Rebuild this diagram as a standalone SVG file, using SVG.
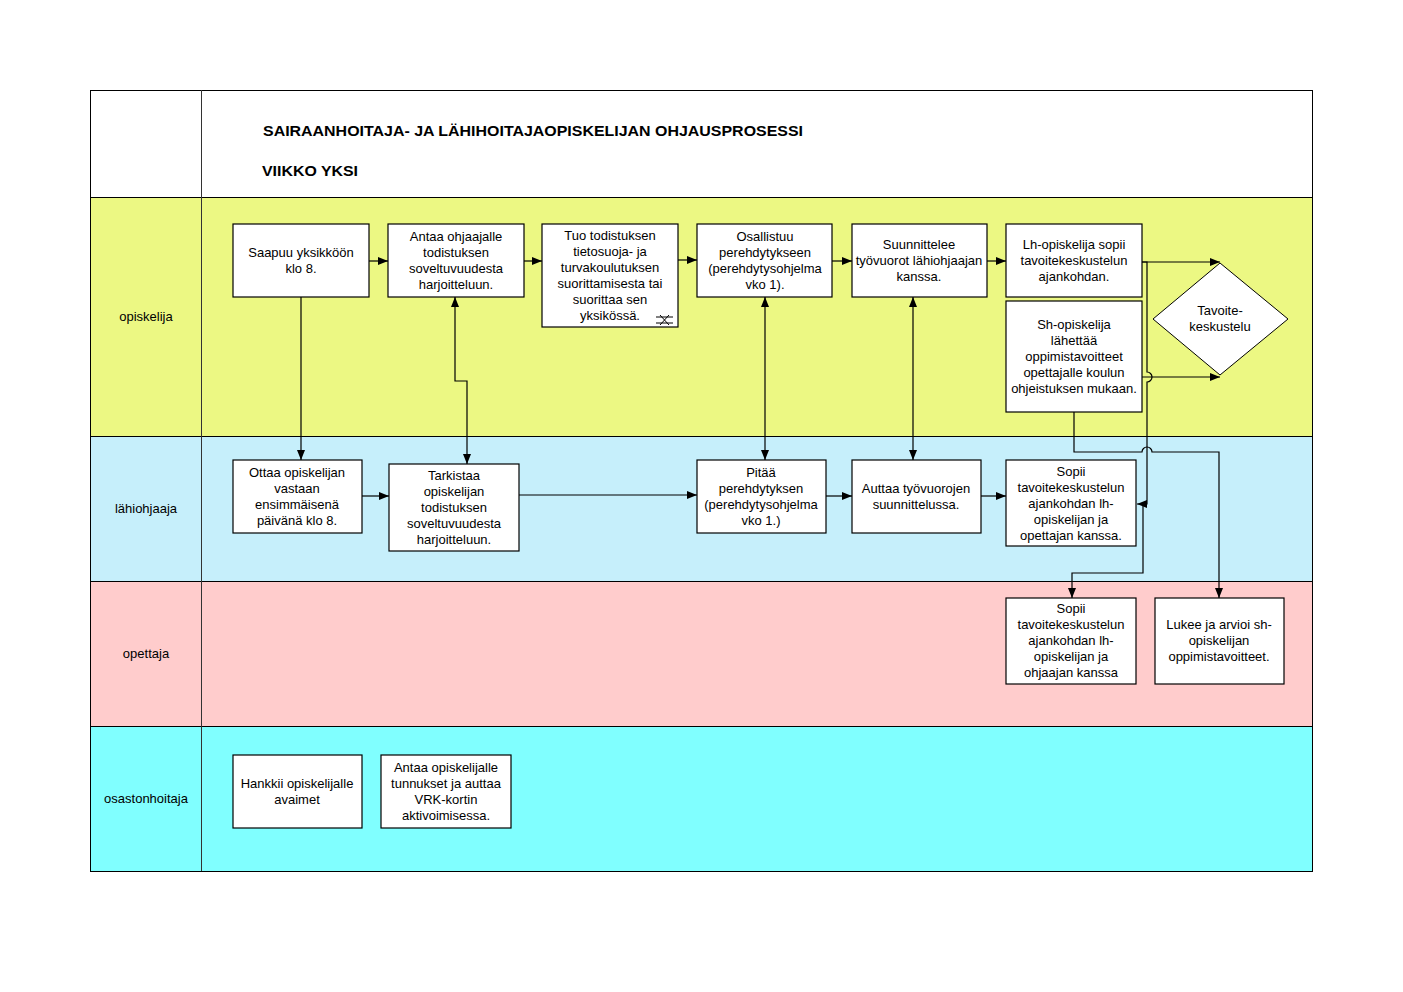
<svg xmlns="http://www.w3.org/2000/svg" width="1403" height="992" viewBox="0 0 1403 992">
<defs>
<marker id="ah" viewBox="0 0 10 8" refX="10" refY="4" markerWidth="10" markerHeight="8" markerUnits="userSpaceOnUse" orient="auto-start-reverse">
<path d="M0,0 L10,4 L0,8 Z" fill="#000"/>
</marker>
</defs>
<style>
.box{fill:#fff;stroke:#000;stroke-width:1.2}
.t{font-family:"Liberation Sans",Arial,sans-serif;font-size:13px;fill:#000;text-anchor:middle}
.ttl{font-family:"Liberation Sans",Arial,sans-serif;font-size:15px;font-weight:bold;fill:#000}
.c{fill:none;stroke:#000;stroke-width:1.2}
.ca{fill:none;stroke:#000;stroke-width:1.2;marker-end:url(#ah)}
.cb{fill:none;stroke:#000;stroke-width:1.2;marker-end:url(#ah);marker-start:url(#ah)}
.lane{stroke:none}
</style>
<rect width="1403" height="992" fill="#fff"/>
<g id="lanes">
<rect x="90" y="90" width="1222" height="107" fill="#fff"/>
<rect class="lane" x="90" y="197" width="1222" height="239" fill="#ECF883"/>
<rect class="lane" x="90" y="436" width="1222" height="145" fill="#C6EFFB"/>
<rect class="lane" x="90" y="581" width="1222" height="145" fill="#FFCCCC"/>
<rect class="lane" x="90" y="726" width="1222" height="145" fill="#80FFFF"/>
<rect x="90.5" y="90.5" width="1222" height="781" fill="none" stroke="#000" stroke-width="1"/>
<path d="M90,197.5H1312M90,436.5H1312M90,581.5H1312M90,726.5H1312" stroke="#000" stroke-width="1"/>
<path d="M201.5,90V871" stroke="#333" stroke-width="1"/>
<text class="t" x="146" y="321">opiskelija</text>
<text class="t" x="146" y="513">lähiohjaaja</text>
<text class="t" x="146" y="658">opettaja</text>
<text class="t" x="146" y="803">osastonhoitaja</text>
</g>
<g id="title">
<text class="ttl" x="263" y="136" textLength="540" lengthAdjust="spacingAndGlyphs">SAIRAANHOITAJA- JA LÄHIHOITAJAOPISKELIJAN OHJAUSPROSESSI</text>
<text class="ttl" x="262" y="176" textLength="96" lengthAdjust="spacingAndGlyphs">VIIKKO YKSI</text>
</g>
<g id="connectors">
<path class="ca" d="M369,261H388"/>
<path class="ca" d="M524,261H542"/>
<path class="ca" d="M678,260H697"/>
<path class="ca" d="M832,261H852"/>
<path class="ca" d="M987,261H1006"/>
<path class="ca" d="M1142,262H1220"/>
<path class="ca" d="M1142,262H1147V372A5,5 0 0 1 1147,382V504H1137"/>
<path class="ca" d="M1142,377H1220"/>
<path class="ca" d="M1074,412V452H1142A5,5 0 0 1 1152,452H1219V598"/>
<path class="ca" d="M1143,504V573H1072V598"/>
<path class="ca" d="M301,297V460"/>
<path class="cb" d="M455,297V381H467V464"/>
<path class="ca" d="M362,496H389"/>
<path class="ca" d="M519,495H697"/>
<path class="cb" d="M765,297V460"/>
<path class="ca" d="M826,496H852"/>
<path class="cb" d="M913,297V460"/>
<path class="ca" d="M981,496H1006"/>
</g>
<g id="n1"><rect class="box" x="233" y="224" width="136" height="73"/>
<text class="t" x="301" y="257">Saapuu yksikköön</text><text class="t" x="301" y="273">klo 8.</text></g>
<g id="n2"><rect class="box" x="388" y="224" width="136" height="73"/>
<text class="t" x="456" y="241">Antaa ohjaajalle</text><text class="t" x="456" y="257">todistuksen</text><text class="t" x="456" y="273">soveltuvuudesta</text><text class="t" x="456" y="289">harjoitteluun.</text></g>
<g id="n3"><rect class="box" x="542" y="224" width="136" height="103"/>
<text class="t" x="610" y="240">Tuo todistuksen</text><text class="t" x="610" y="256">tietosuoja- ja</text><text class="t" x="610" y="272">turvakoulutuksen</text><text class="t" x="610" y="288">suorittamisesta tai</text><text class="t" x="610" y="304">suorittaa sen</text><text class="t" x="610" y="320">yksikössä.</text>
<path d="M656,317H673M656,323H673M660,315L669,325M669,315L660,325" stroke="#000" stroke-width="1" fill="none"/></g>
<g id="n4"><rect class="box" x="697" y="224" width="135" height="73"/>
<text class="t" x="765" y="241">Osallistuu</text><text class="t" x="765" y="257">perehdytykseen</text><text class="t" x="765" y="273">(perehdytysohjelma</text><text class="t" x="765" y="289">vko 1).</text></g>
<g id="n5"><rect class="box" x="852" y="224" width="135" height="73"/>
<text class="t" x="919" y="249">Suunnittelee</text><text class="t" x="919" y="265">työvuorot lähiohjaajan</text><text class="t" x="919" y="281">kanssa.</text></g>
<g id="n6"><rect class="box" x="1006" y="224" width="136" height="73"/>
<text class="t" x="1074" y="249">Lh-opiskelija sopii</text><text class="t" x="1074" y="265">tavoitekeskustelun</text><text class="t" x="1074" y="281">ajankohdan.</text></g>
<g id="n7"><rect class="box" x="1006" y="301" width="136" height="111"/>
<text class="t" x="1074" y="329">Sh-opiskelija</text><text class="t" x="1074" y="345">lähettää</text><text class="t" x="1074" y="361">oppimistavoitteet</text><text class="t" x="1074" y="377">opettajalle koulun</text><text class="t" x="1074" y="393">ohjeistuksen mukaan.</text></g>
<g id="n8"><path d="M1220,263L1288,319L1220,375L1153,319Z" fill="#fff" stroke="#000" stroke-width="1"/>
<text class="t" x="1220" y="315">Tavoite-</text><text class="t" x="1220" y="331">keskustelu</text></g>
<g id="n9"><rect class="box" x="233" y="460" width="129" height="73"/>
<text class="t" x="297" y="477">Ottaa opiskelijan</text><text class="t" x="297" y="493">vastaan</text><text class="t" x="297" y="509">ensimmäisenä</text><text class="t" x="297" y="525">päivänä klo 8.</text></g>
<g id="n10"><rect class="box" x="389" y="464" width="130" height="87"/>
<text class="t" x="454" y="480">Tarkistaa</text><text class="t" x="454" y="496">opiskelijan</text><text class="t" x="454" y="512">todistuksen</text><text class="t" x="454" y="528">soveltuvuudesta</text><text class="t" x="454" y="544">harjoitteluun.</text></g>
<g id="n11"><rect class="box" x="697" y="460" width="129" height="73"/>
<text class="t" x="761" y="477">Pitää</text><text class="t" x="761" y="493">perehdytyksen</text><text class="t" x="761" y="509">(perehdytysohjelma</text><text class="t" x="761" y="525">vko 1.)</text></g>
<g id="n12"><rect class="box" x="852" y="460" width="129" height="73"/>
<text class="t" x="916" y="493">Auttaa työvuorojen</text><text class="t" x="916" y="509">suunnittelussa.</text></g>
<g id="n13"><rect class="box" x="1006" y="460" width="130" height="86"/>
<text class="t" x="1071" y="476">Sopii</text><text class="t" x="1071" y="492">tavoitekeskustelun</text><text class="t" x="1071" y="508">ajankohdan lh-</text><text class="t" x="1071" y="524">opiskelijan ja</text><text class="t" x="1071" y="540">opettajan kanssa.</text></g>
<g id="n14"><rect class="box" x="1006" y="598" width="130" height="86"/>
<text class="t" x="1071" y="613">Sopii</text><text class="t" x="1071" y="629">tavoitekeskustelun</text><text class="t" x="1071" y="645">ajankohdan lh-</text><text class="t" x="1071" y="661">opiskelijan ja</text><text class="t" x="1071" y="677">ohjaajan kanssa</text></g>
<g id="n15"><rect class="box" x="1155" y="598" width="129" height="86"/>
<text class="t" x="1219" y="629">Lukee ja arvioi sh-</text><text class="t" x="1219" y="645">opiskelijan</text><text class="t" x="1219" y="661">oppimistavoitteet.</text></g>
<g id="n16"><rect class="box" x="233" y="755" width="129" height="73"/>
<text class="t" x="297" y="788">Hankkii opiskelijalle</text><text class="t" x="297" y="804">avaimet</text></g>
<g id="n17"><rect class="box" x="381" y="755" width="130" height="73"/>
<text class="t" x="446" y="772">Antaa opiskelijalle</text><text class="t" x="446" y="788">tunnukset ja auttaa</text><text class="t" x="446" y="804">VRK-kortin</text><text class="t" x="446" y="820">aktivoimisessa.</text></g>
</svg>
